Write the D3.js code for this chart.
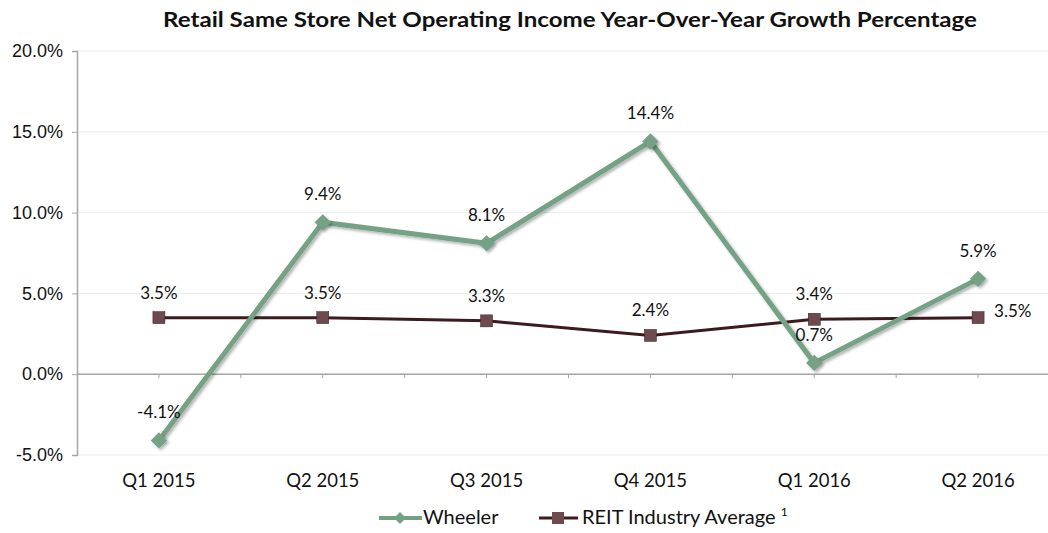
<!DOCTYPE html>
<html>
<head>
<meta charset="utf-8">
<script src="https://cdn.jsdelivr.net/npm/d3@7"></script>
<style>
  body { margin: 0; background: #fff; }
  svg { display: block; font-family: "Lato", "Open Sans", sans-serif; }
</style>
</head>
<body>
<svg id="chart" width="1048" height="533"></svg>
<script>
// data
var quarters = ["Q1 2015", "Q2 2015", "Q3 2015", "Q4 2015", "Q1 2016", "Q2 2016"];
var wheeler = [-4.1, 9.4, 8.1, 14.4, 0.7, 5.9];
var reitAverage = [3.5, 3.5, 3.3, 2.4, 3.4, 3.5];
var yTicks = [-5, 0, 5, 10, 15, 20];
// where each REIT label sits relative to its point
var reitLabelSide = ["above", "above", "above", "above", "above", "right"];

var svg = d3.select("#chart");
var margin = {left: 77, right: -12, top: 51, bottom: 78};
var W = 1048, H = 533;

var x = d3.scaleBand().domain(quarters).range([margin.left, W - margin.right]);
var y = d3.scaleLinear().domain([-5, 20]).range([H - margin.bottom, margin.top]);
var cx = function(d, i){ return x(quarters[i]) + x.bandwidth() / 2; };

// gridlines
svg.append("g").selectAll("line").data(yTicks).enter().append("line")
	.attr("x1", margin.left).attr("x2", W)
	.attr("y1", function(d){ return y(d); }).attr("y2", function(d){ return y(d); })
	.attr("stroke", "#ececec").attr("stroke-width", 1);

// y axis
var yAxis = d3.axisLeft(y).tickValues(yTicks).tickSize(5).tickPadding(9)
	.tickFormat(function(d){ return d.toFixed(1) + "%"; });
var gy = svg.append("g").attr("transform", "translate(" + margin.left + ",0)").call(yAxis);
gy.select(".domain").attr("stroke", "#a6a6a6").attr("stroke-width", 1.5);
gy.selectAll(".tick line").attr("stroke", "#a6a6a6");
gy.selectAll("text").attr("font-size", 18).attr("fill", "#111");

// zero line with small ticks every half band
svg.append("line").attr("x1", margin.left).attr("x2", W)
	.attr("y1", y(0)).attr("y2", y(0)).attr("stroke", "#a6a6a6").attr("stroke-width", 1.5);
var halfTicks = [];
quarters.forEach(function(q){ halfTicks.push(x(q) + x.bandwidth() / 2); halfTicks.push(x(q) + x.bandwidth()); });
svg.append("g").selectAll("line").data(halfTicks).enter().append("line")
	.attr("x1", function(d){ return d; }).attr("x2", function(d){ return d; })
	.attr("y1", y(0)).attr("y2", y(0) + 4)
	.attr("stroke", "#a6a6a6");

// category labels
svg.append("g").selectAll("text").data(quarters).enter().append("text")
	.attr("x", function(d){ return x(d) + x.bandwidth() / 2; })
	.attr("y", 487).attr("text-anchor", "middle")
	.attr("font-size", 18.5).attr("fill", "#111")
	.text(function(d){ return d; });

// title
svg.append("text").attr("x", 570).attr("y", 27).attr("text-anchor", "middle")
	.attr("font-size", 20).attr("font-weight", "bold").attr("fill", "#111")
	.attr("textLength", 814).attr("lengthAdjust", "spacingAndGlyphs")
	.text("Retail Same Store Net Operating Income Year-Over-Year Growth Percentage");

var line = d3.line().x(cx).y(function(d){ return y(d); });

var defs = svg.append("defs");
defs.append("filter").attr("id", "shadow").attr("x", "-20%").attr("y", "-20%").attr("width", "140%").attr("height", "140%")
	.append("feDropShadow").attr("dx", 2).attr("dy", 2).attr("stdDeviation", 1.5)
	.attr("flood-color", "#000").attr("flood-opacity", 0.3);

// REIT series
var reitLine = "#3e1a1f", reitFill = "#6e4a4f";
svg.append("path").datum(reitAverage).attr("d", line)
	.attr("fill", "none").attr("stroke", reitLine).attr("stroke-width", 3);
svg.append("g").selectAll("rect").data(reitAverage).enter().append("rect")
	.attr("x", function(d, i){ return cx(d, i) - 6; })
	.attr("y", function(d){ return y(d) - 6; })
	.attr("width", 12).attr("height", 12)
	.attr("fill", reitFill).attr("stroke", reitLine).attr("stroke-width", 0.5);

// Wheeler series
var green = "#74a184";
svg.append("path").datum(wheeler).attr("d", line)
	.attr("fill", "none").attr("stroke", green).attr("stroke-width", 5)
	.attr("stroke-linejoin", "round").attr("filter", "url(#shadow)");
var diamond = d3.symbol().type(d3.symbolDiamond2).size(170);
svg.append("g").selectAll("path").data(wheeler).enter().append("path")
	.attr("d", diamond)
	.attr("transform", function(d, i){ return "translate(" + cx(d, i) + "," + y(d) + ")"; })
	.attr("fill", green).attr("filter", "url(#shadow)");

// data labels
var pct = function(d){ return d.toFixed(1) + "%"; };
svg.append("g").selectAll("text").data(wheeler).enter().append("text")
	.attr("x", cx).attr("y", function(d){ return y(d) - 22; })
	.attr("text-anchor", "middle").attr("font-size", 17).attr("fill", "#111")
	.text(pct);
svg.append("g").selectAll("text").data(reitAverage).enter().append("text")
	.attr("x", function(d, i){ return reitLabelSide[i] === "right" ? cx(d, i) + 16 : cx(d, i); })
	.attr("y", function(d, i){ return reitLabelSide[i] === "right" ? y(d) - 1 : y(d) - 19; })
	.attr("text-anchor", function(d, i){ return reitLabelSide[i] === "right" ? "start" : "middle"; })
	.attr("font-size", 17).attr("fill", "#111")
	.text(pct);

// legend
var lg = svg.append("g").attr("transform", "translate(0,524)");
lg.append("line").attr("x1", 379).attr("x2", 422).attr("y1", -6).attr("y2", -6)
	.attr("stroke", green).attr("stroke-width", 4);
lg.append("path").attr("d", d3.symbol().type(d3.symbolDiamond2).size(90))
	.attr("transform", "translate(400,-6)").attr("fill", green);
lg.append("text").attr("x", 423).attr("y", 0).attr("font-size", 20).attr("fill", "#111").text("Wheeler");
lg.append("line").attr("x1", 539).attr("x2", 578).attr("y1", -6).attr("y2", -6)
	.attr("stroke", reitLine).attr("stroke-width", 3);
lg.append("rect").attr("x", 552).attr("y", -12).attr("width", 12).attr("height", 12).attr("fill", reitFill);
var lt = lg.append("text").attr("x", 582).attr("y", 0).attr("font-size", 20).attr("fill", "#111");
lt.append("tspan").text("REIT Industry Average ");
lt.append("tspan").attr("font-size", 12).attr("dy", -8).text("1");
</script>
</body>
</html>
